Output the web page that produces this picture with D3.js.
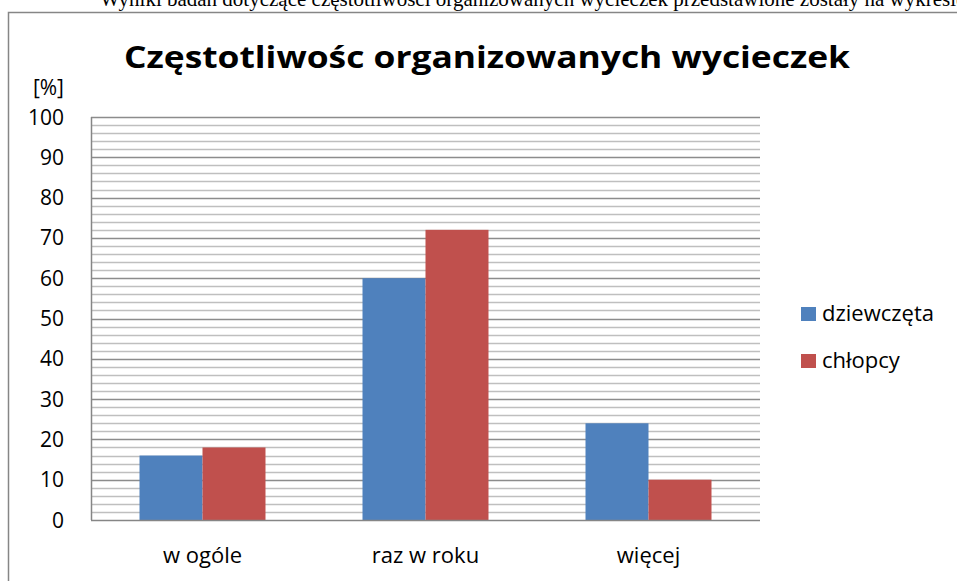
<!DOCTYPE html>
<html>
<head>
<meta charset="utf-8">
<script src="https://cdn.jsdelivr.net/npm/d3@7"></script>
<style>
  body { margin: 0; background: #fff; }
</style>
</head>
<body>
<div id="chart"></div>
<script>
const categories = ["w ogóle", "raz w roku", "więcej"];
const seriesNames = ["dziewczęta", "chłopcy"];
const dziewczeta = [16, 60, 24];
const chlopcy = [18, 72, 10];
const yTicks = [0, 10, 20, 30, 40, 50, 60, 70, 80, 90, 100];
const colors = ["#4f81bd", "#c0504d"];

const width = 957, height = 581;
const plot = { left: 91, right: 760, top: 117, bottom: 520 };
const font = "Open Sans";

const svg = d3.select("#chart").append("svg")
    .attr("width", width)
    .attr("height", height);

// caption of the page above the chart (cut off at the top, as in the scan)
svg.append("text")
    .attr("x", 100)
    .attr("y", 6)
    .style("font-family", "Liberation Serif")
    .style("font-size", "21px")
    .attr("fill", "#000")
    .text("Wyniki badań dotyczące częstotliwości organizowanych wycieczek przedstawione zostały na wykresie");

// chart frame
svg.append("rect")
    .attr("x", 8.5)
    .attr("y", 12.5)
    .attr("width", 1000)
    .attr("height", 700)
    .attr("fill", "#fff")
    .attr("stroke", "#868686")
    .attr("stroke-width", 1.5);

// title
svg.append("text")
    .attr("x", 487)
    .attr("y", 68)
    .attr("text-anchor", "middle")
    .style("font-family", font)
    .style("font-weight", "bold")
    .style("font-size", "31px")
    .attr("textLength", 726)
    .attr("lengthAdjust", "spacingAndGlyphs")
    .text("Częstotliwośc organizowanych wycieczek");

const y = d3.scaleLinear().domain([0, 100]).range([plot.bottom, plot.top]);
const x0 = d3.scaleBand().domain(categories).range([plot.left, plot.right])
    .paddingInner(0.435).paddingOuter(0.2175);
const x1 = d3.scaleBand().domain(seriesNames).range([0, x0.bandwidth()]);

// grid: minor every 2, major every 10
const g = svg.append("g");
const minor = d3.range(2, 100, 2).filter(v => v % 10 !== 0);
g.selectAll(".minor").data(minor).enter().append("line")
    .attr("x1", plot.left).attr("x2", plot.right)
    .attr("y1", d => Math.round(y(d)) + 0.5).attr("y2", d => Math.round(y(d)) + 0.5)
    .attr("stroke", "#bfbfbf").attr("stroke-width", 1.5);

g.selectAll(".major").data(yTicks.filter(d => d > 0)).enter().append("line")
    .attr("x1", plot.left).attr("x2", plot.right)
    .attr("y1", d => Math.round(y(d)) + 0.5).attr("y2", d => Math.round(y(d)) + 0.5)
    .attr("stroke", "#8c8c8c").attr("stroke-width", 1.5);

// bars
const data = categories.map((c, i) => ({ cat: c, vals: [dziewczeta[i], chlopcy[i]] }));
const groups = svg.selectAll(".grp").data(data).enter().append("g")
    .attr("transform", d => `translate(${x0(d.cat)},0)`);
groups.selectAll("rect").data(d => d.vals.map((v, i) => ({ name: seriesNames[i], v, i })))
    .enter().append("rect")
    .attr("x", d => x1(d.name))
    .attr("width", x1.bandwidth())
    .attr("y", d => y(d.v))
    .attr("height", d => y(0) - y(d.v))
    .attr("fill", d => colors[d.i]);

// axis lines
svg.append("line")
    .attr("x1", plot.left + 0.5).attr("x2", plot.left + 0.5)
    .attr("y1", plot.top).attr("y2", plot.bottom)
    .attr("stroke", "#868686").attr("stroke-width", 1.5);
svg.append("line")
    .attr("x1", plot.left).attr("x2", plot.right)
    .attr("y1", plot.bottom + 0.5).attr("y2", plot.bottom + 0.5)
    .attr("stroke", "#868686").attr("stroke-width", 1.5);

// y tick labels
svg.selectAll(".ylab").data(yTicks).enter().append("text")
    .attr("x", 64)
    .attr("y", d => y(d))
    .attr("dy", "0.36em")
    .attr("text-anchor", "end")
    .style("font-family", font)
    .style("font-size", "21px")
    .attr("fill", "#000")
    .text(d => d);

svg.append("text")
    .attr("x", 64)
    .attr("y", 95)
    .attr("text-anchor", "end")
    .style("font-family", font)
    .style("font-size", "21px")
    .text("[%]");

// x labels
svg.selectAll(".xlab").data(categories).enter().append("text")
    .attr("x", d => x0(d) + x0.bandwidth() / 2)
    .attr("y", 563)
    .attr("text-anchor", "middle")
    .style("font-family", font)
    .style("font-size", "22px")
    .text(d => d);

// legend
const legend = svg.selectAll(".leg").data(seriesNames).enter().append("g")
    .attr("transform", (d, i) => `translate(801,${307 + i * 47})`);
legend.append("rect")
    .attr("width", 15).attr("height", 14)
    .attr("fill", (d, i) => colors[i]);
legend.append("text")
    .attr("x", 21).attr("y", 14)
    .style("font-family", font)
    .style("font-size", "22px")
    .text(d => d);
</script>
</body>
</html>
